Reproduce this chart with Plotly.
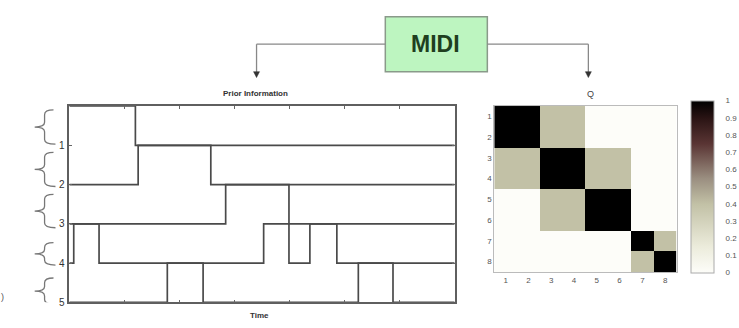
import plotly.graph_objects as go

W, H = 739, 328

# Piano-roll style voice activity (time units 0..7)
voice_ids = [1, 2, 3, 4, 5]
voice_on_times = [[0.0], [1.25], [2.84], [0.08, 3.53, 4.37], [1.78, 5.25]]
voice_off_times = [[1.2], [2.57], [3.99], [0.54, 3.99, 4.86], [2.43, 5.88]]
time_end = 7

# Similarity matrix Q between the 8 notes
q_labels = [1, 2, 3, 4, 5, 6, 7, 8]
q_values = [
    [1.0, 1.0, 0.4, 0.4, 0.0, 0.0, 0.0, 0.0],
    [1.0, 1.0, 0.4, 0.4, 0.0, 0.0, 0.0, 0.0],
    [0.4, 0.4, 1.0, 1.0, 0.4, 0.4, 0.0, 0.0],
    [0.4, 0.4, 1.0, 1.0, 0.4, 0.4, 0.0, 0.0],
    [0.0, 0.0, 0.4, 0.4, 1.0, 1.0, 0.0, 0.0],
    [0.0, 0.0, 0.4, 0.4, 1.0, 1.0, 0.0, 0.0],
    [0.0, 0.0, 0.0, 0.0, 0.0, 0.0, 1.0, 0.4],
    [0.0, 0.0, 0.0, 0.0, 0.0, 0.0, 0.4, 1.0],
]
cbar_ticks = [0, 0.1, 0.2, 0.3, 0.4, 0.5, 0.6, 0.7, 0.8, 0.9, 1]


def px(x):
    return x / W


def py(y):
    return 1 - y / H


FONT = "Liberation Sans, Arial, sans-serif"
LINE = "#4a4a4a"

fig = go.Figure()

# voice step lines
for vid, ons, offs in zip(voice_ids, voice_on_times, voice_off_times):
    base, high = vid, vid - 1
    xs, ys = [], []
    if not ons or ons[0] > 0:
        xs.append(0)
        ys.append(base)
    for on, off in zip(ons, offs):
        xs += [on, off]
        ys += [high, base]
    xs.append(time_end)
    ys.append(base)
    fig.add_trace(go.Scatter(x=xs, y=ys, mode="lines", line=dict(color=LINE, width=1.7, shape="hv"),
                             xaxis="x", yaxis="y", showlegend=False, hoverinfo="skip"))

# similarity heatmap
colorscale = [
    [0.0, "#fdfdf9"],
    [0.15, "#ececdc"],
    [0.4, "#c2c1a6"],
    [0.55, "#9a8e80"],
    [0.75, "#5a3534"],
    [0.9, "#2a1414"],
    [1.0, "#000000"],
]
fig.add_trace(go.Heatmap(
    z=q_values, x=q_labels, y=q_labels, zmin=0, zmax=1, colorscale=colorscale,
    xaxis="x2", yaxis="y2", hoverinfo="skip",
    colorbar=dict(x=px(698), xanchor="left", y=py(190), yanchor="middle",
                  thickness=23, thicknessmode="pixels", len=172, lenmode="pixels",
                  outlinecolor="#aaa", outlinewidth=1, tickvals=cbar_ticks,
                  ticks="outside", ticklen=10, tickcolor="rgba(0,0,0,0)",
                  tickfont=dict(size=8, color="#555", family=FONT), xpad=0, ypad=0),
))

axis_common = dict(showgrid=False, zeroline=False, showline=True, mirror="ticks",
                   linecolor="#5f5f5f", linewidth=1.5, ticks="inside", ticklen=3, tickcolor="#666")

fig.update_layout(
    width=W, height=H, autosize=False,
    margin=dict(l=0, r=0, t=0, b=0),
    paper_bgcolor="white", plot_bgcolor="white",
    xaxis=dict(domain=[px(70), px(459)], range=[0, time_end], tickvals=list(range(time_end + 1)),
               showticklabels=False, anchor="y", **axis_common),
    yaxis=dict(domain=[py(308), py(108)], range=[5, 0], tickvals=voice_ids,
               tickfont=dict(size=10, color="#333", family=FONT), ticklabelstandoff=1,
               anchor="x", **axis_common),
    xaxis2=dict(domain=[px(499), px(683)], range=[0.5, 8.5], tickvals=q_labels,
                tickfont=dict(size=8, color="#555", family=FONT), anchor="y2",
                showgrid=False, zeroline=False, showline=True, mirror=True,
                linecolor="#bbb", linewidth=1, ticks=""),
    yaxis2=dict(domain=[py(277), py(108)], range=[8.5, 0.5], tickvals=q_labels,
                tickfont=dict(size=8, color="#555", family=FONT), anchor="x2",
                showgrid=False, zeroline=False, showline=True, mirror=True,
                linecolor="#bbb", linewidth=1, ticks=""),
)

shapes = []
# curly braces grouping each voice band
brace_spans = [(0.1, 0.97), (1.18, 2.05), (2.25, 3.1), (3.48, 4.05), (4.38, 5.05)]
xt, xs_, xp = px(54), px(45), px(35)
r = 0.12
for yt, yb in brace_spans:
    ym = (yt + yb) / 2
    path = (f"M {xt},{yt} Q {xs_},{yt} {xs_},{yt + r} L {xs_},{ym - r} "
            f"Q {xs_},{ym} {xp},{ym} Q {xs_},{ym} {xs_},{ym + r} "
            f"L {xs_},{yb - r} Q {xs_},{yb} {xt + px(2)},{yb}")
    shapes.append(dict(type="path", path=path, xref="paper", yref="y",
                       line=dict(color="#777", width=1.3)))

# MIDI box and connectors
shapes.append(dict(type="rect", xref="paper", yref="paper", x0=px(389), x1=px(492),
                   y0=py(73), y1=py(17), fillcolor="#bdf5c0", line=dict(color="#8a9a8a", width=1.5)))
for x_from, x_to in [(389, 259), (492, 594)]:
    shapes.append(dict(type="line", xref="paper", yref="paper", x0=px(x_from), x1=px(x_to),
                       y0=py(45), y1=py(45), line=dict(color="#888", width=1.3)))
    shapes.append(dict(type="line", xref="paper", yref="paper", x0=px(x_to), x1=px(x_to),
                       y0=py(45), y1=py(74), line=dict(color="#888", width=1.3)))
    shapes.append(dict(type="path", xref="paper", yref="paper",
                       path=f"M {px(x_to - 3)},{py(73)} L {px(x_to + 3)},{py(73)} L {px(x_to)},{py(79)} Z",
                       fillcolor="#333", line=dict(color="#333", width=0.5)))
fig.update_layout(shapes=shapes)

annotations = [
    dict(text="<b>MIDI</b>", x=px(440), y=py(45), font=dict(size=23, color="#1f3f1f", family=FONT)),
    dict(text="<b>Prior Information</b>", x=px(258), y=py(95), font=dict(size=8, color="#333", family=FONT)),
    dict(text="Q", x=px(596), y=py(96), font=dict(size=9, color="#444", family=FONT)),
    dict(text="<b>Time</b>", x=px(262), y=py(321), font=dict(size=8, color="#333", family=FONT)),
    dict(text=")", x=px(3), y=py(303), font=dict(size=9, color="#555", family=FONT)),
]
for a in annotations:
    a.update(xref="paper", yref="paper", showarrow=False, xanchor="center", yanchor="middle")
fig.update_layout(annotations=annotations)

fig.write_html("out.html")
